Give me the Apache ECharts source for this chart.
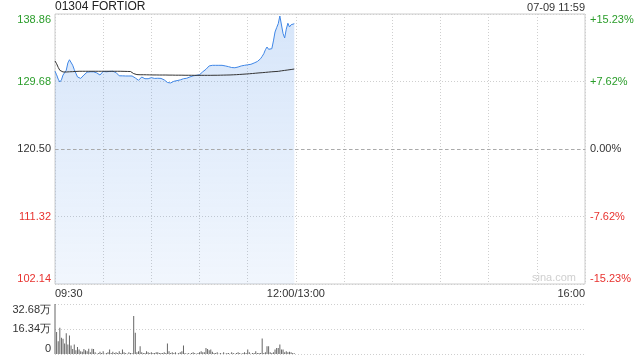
<!DOCTYPE html>
<html>
<head>
<meta charset="utf-8">
<script src="https://cdn.jsdelivr.net/npm/echarts@6/dist/echarts.min.js"></script>
<style>html,body{margin:0;padding:0;background:#fff;}#c{width:640px;height:360px;}</style>
</head>
<body>
<div id="c"></div>
<script>
const stockTitle = '01304 FORTIOR';
const timeStamp = '07-09 11:59';
const priceMin = 102.14, priceMax = 138.86, prevClose = 120.50;
const priceTicks = ['102.14', '111.32', '120.50', '129.68', '138.86'];
const pctTicks = ['-15.23%', '-7.62%', '0.00%', '+7.62%', '+15.23%'];
const volTickLabels = ['0', '16.34万', '32.68万'];
const volMax = 32.68;
const xTickValues = [0, 150, 330];
const xTickLabels = ['09:30', '12:00/13:00', '16:00'];
const totalMinutes = 330;

const prices = [
 131.07,130.60,130.00,129.61,129.90,130.56,130.60,131.20,132.20,132.64,
 132.50,131.90,131.30,130.80,130.30,130.06,130.10,130.30,130.56,130.80,
 130.95,130.97,131.00,130.90,131.00,130.97,130.85,130.70,130.56,130.80,
 131.05,131.07,131.00,131.10,131.05,130.97,131.07,131.00,130.90,130.70,
 130.45,130.43,130.45,130.40,130.43,130.45,130.43,130.40,130.43,130.20,
 130.16,130.00,129.84,130.10,130.29,130.20,130.06,130.06,130.06,130.15,
 130.20,130.15,130.10,130.10,130.12,130.10,130.10,130.00,129.90,129.84,
 129.55,129.48,129.48,129.60,129.71,129.75,129.80,129.84,129.90,130.00,
 130.06,130.10,130.12,130.16,130.30,130.43,130.45,130.50,130.52,130.55,
 130.60,130.80,131.00,131.10,131.34,131.60,131.80,131.88,131.88,131.85,
 131.88,131.90,131.88,131.85,131.88,131.85,131.80,131.75,131.70,131.65,
 131.58,131.52,131.55,131.60,131.65,131.70,131.80,131.88,131.88,131.90,
 131.95,132.00,132.02,132.10,132.20,132.24,132.40,132.60,132.78,133.10,
 133.46,134.00,134.37,134.06,134.10,134.14,135.20,136.41,137.00,137.54,
 138.59,138.45,136.20,135.60,136.80,137.60,137.10,137.40,137.40,137.54
];

const avgPrices = [
 132.47,132.10,131.60,131.20,131.00,130.98,130.97,130.97,131.00,131.00,
 131.00,131.02,131.03,131.05,131.07,131.07,131.07,131.07,131.07,131.07,
 131.07,131.07,131.07,131.07,131.07,131.07,131.07,131.07,131.07,131.07,
 131.07,131.07,131.07,131.07,131.07,131.07,131.07,131.07,131.07,131.07,
 131.07,131.07,131.06,131.06,131.06,131.05,131.05,131.04,131.00,130.75,
 130.65,130.62,130.60,130.60,130.60,130.60,130.59,130.59,130.58,130.58,
 130.57,130.57,130.57,130.57,130.56,130.56,130.56,130.56,130.56,130.56,
 130.55,130.55,130.55,130.55,130.55,130.54,130.54,130.54,130.54,130.54,
 130.54,130.53,130.53,130.53,130.53,130.53,130.53,130.52,130.52,130.52,
 130.52,130.52,130.52,130.52,130.52,130.52,130.52,130.52,130.53,130.53,
 130.53,130.53,130.54,130.54,130.54,130.55,130.55,130.56,130.56,130.57,
 130.58,130.59,130.60,130.61,130.62,130.64,130.65,130.67,130.68,130.70,
 130.72,130.73,130.75,130.77,130.79,130.81,130.83,130.85,130.87,130.88,
 130.90,130.92,130.94,130.96,130.98,131.00,131.01,131.03,131.05,131.06,
 131.10,131.13,131.16,131.19,131.22,131.25,131.28,131.31,131.35,131.38
];

const volumes = [
 32.68,14.4,8.4,17.2,10.6,9.9,6.8,13.5,6.2,12.1,
 5.5,3.3,6.2,2.4,4.6,2.9,1.8,1.5,3.3,2.4,
 1.8,3.5,1.1,3.5,3.3,1.1,0.2,0.7,1.5,0.7,
 1.8,0.2,0.7,1.1,2.9,0.7,1.5,0.7,1.1,0.7,
 1.8,0.7,2.9,1.1,0.7,0.2,1.1,0.7,0.5,24.9,
 13.9,1.1,1.8,5.1,1.1,0.7,0.7,1.8,1.1,0.7,
 1.1,0.7,0.7,1.1,1.1,0.7,0.7,0.7,1.1,0.7,
 6.8,1.8,0.7,1.1,0.7,1.1,0.2,0.7,1.1,1.8,
 5.5,0.7,0.2,0.7,0.2,0.7,1.1,0.7,0.2,0.7,
 1.1,1.8,1.1,1.1,4.0,3.3,2.4,2.9,1.5,0.7,
 0.7,1.1,0.2,0.7,0.2,1.1,0.2,0.7,0.7,0.2,
 1.1,0.7,0.2,0.7,1.1,0.7,0.2,0.7,1.1,0.7,
 2.9,1.1,0.2,0.7,0.7,1.8,0.7,0.7,0.7,10.2,
 0.7,1.1,5.1,5.1,1.1,0.7,1.1,2.9,4.0,4.0,
 6.2,2.9,2.9,1.1,1.8,1.1,1.5,1.1,0.7,0.5
];

const GREEN = '#2a9d2a', RED = '#e8322f', TEXT = '#333';
const FONT = "Arial, 'Liberation Sans', sans-serif";
const dotted = { color: '#cfcfcf', type: [1, 2], width: 1 };

function sideColor(v) {
  v = Number(v);
  return v > 2 ? GREEN : (v < 2 ? RED : TEXT);
}

const chart = echarts.init(document.getElementById('c'), null, { renderer: 'canvas' });
chart.setOption({
  animation: false,
  textStyle: { fontFamily: FONT },
  title: [
    { text: stockTitle, left: 55, top: 1, padding: 0, textStyle: { fontSize: 12, fontWeight: 'normal', color: '#222', fontFamily: FONT } },
    { text: timeStamp, right: 55, top: 2, padding: 0, textStyle: { fontSize: 11, fontWeight: 'normal', color: TEXT, fontFamily: FONT } }
  ],
  graphic: [
    { type: 'text', left: 532, top: 272, silent: true, style: { text: 'sina.com', fontSize: 11, fill: '#cfcfcf', fontFamily: FONT } }
  ],
  grid: [
    { left: 55, right: 55, top: 14, height: 270, show: true, borderColor: '#ccc', borderWidth: 1, backgroundColor: 'transparent' },
    { left: 55, right: 55, top: 304, height: 50 }
  ],
  xAxis: [
    {
      gridIndex: 0, type: 'value', min: 0, max: totalMinutes, interval: 30,
      axisLine: { show: false }, axisTick: { show: false },
      splitLine: { show: true, lineStyle: dotted },
      axisLabel: {
        show: true, color: TEXT, fontSize: 11, margin: 4, fontFamily: FONT,
        showMinLabel: true, showMaxLabel: true,
        alignMinLabel: 'left', alignMaxLabel: 'right',
        formatter: function (v) { const k = xTickValues.indexOf(v); return k >= 0 ? xTickLabels[k] : ''; }
      }
    },
    { gridIndex: 1, type: 'value', min: 0, max: totalMinutes, show: false }
  ],
  yAxis: [
    { gridIndex: 0, type: 'value', min: priceMin, max: priceMax, show: false, splitLine: { show: false } },
    {
      gridIndex: 0, type: 'value', min: 0, max: 4, interval: 1, position: 'left',
      axisLine: { show: false }, axisTick: { show: false },
      splitLine: { show: true, lineStyle: dotted },
      axisLabel: {
        fontSize: 11, margin: 4, fontFamily: FONT,
        verticalAlignMinLabel: 'bottom', verticalAlignMaxLabel: 'top',
        color: function (v) { return sideColor(v); },
        formatter: function (v) { return priceTicks[v]; }
      }
    },
    {
      gridIndex: 0, type: 'value', min: 0, max: 4, interval: 1, position: 'right',
      axisLine: { show: false }, axisTick: { show: false }, splitLine: { show: false },
      axisLabel: {
        fontSize: 11, margin: 5, fontFamily: FONT,
        verticalAlignMinLabel: 'bottom', verticalAlignMaxLabel: 'top',
        color: function (v) { return sideColor(v); },
        formatter: function (v) { return pctTicks[v]; }
      }
    },
    {
      gridIndex: 1, type: 'value', min: 0, max: volMax, interval: volMax / 2, position: 'left',
      axisLine: { show: false }, axisTick: { show: false },
      splitLine: { show: true, lineStyle: dotted },
      axisLabel: {
        fontSize: 11, margin: 4, color: TEXT, fontFamily: FONT,
        verticalAlignMinLabel: 'bottom', verticalAlignMaxLabel: 'top',
        formatter: function (v) { const k = Math.round(v / (volMax / 2)); return volTickLabels[k]; }
      }
    }
  ],
  series: [
    {
      type: 'line', xAxisIndex: 0, yAxisIndex: 0,
      data: prices.map((p, i) => [i, p]),
      showSymbol: false, symbol: 'none',
      lineStyle: { color: '#3f86e6', width: 1 },
      areaStyle: {
        origin: 'start',
        color: new echarts.graphic.LinearGradient(0, 0, 0, 1, [
          { offset: 0, color: 'rgba(63,134,230,0.30)' },
          { offset: 1, color: 'rgba(63,134,230,0.10)' }
        ])
      },
      markLine: {
        silent: true, symbol: 'none', label: { show: false },
        lineStyle: { color: '#aaa', type: [3, 3], width: 1 },
        data: [{ yAxis: prevClose }]
      },
      z: 3
    },
    {
      type: 'line', xAxisIndex: 0, yAxisIndex: 0,
      data: avgPrices.map((p, i) => [i, p]),
      showSymbol: false, symbol: 'none',
      lineStyle: { color: '#333', width: 1 },
      z: 4
    },
    {
      type: 'bar', xAxisIndex: 1, yAxisIndex: 3,
      data: volumes.map((v, i) => [i, v]),
      barWidth: 1,
      itemStyle: { color: '#666' }
    }
  ]
});
</script>
</body>
</html>
